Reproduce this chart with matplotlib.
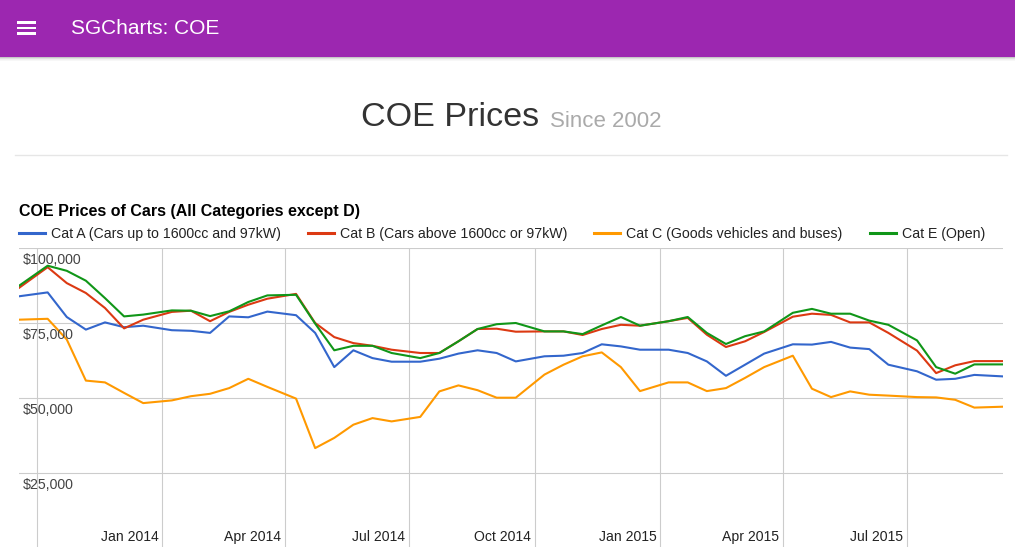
#import library
import numpy as np
import pandas as pd
import matplotlib
matplotlib.use("Agg")
import matplotlib.pyplot as plt
import matplotlib.dates as mdates
from matplotlib.patches import Rectangle
from matplotlib.transforms import offset_copy

#data (COE bidding results)
dates = ["2013-09-18", "2013-10-09", "2013-10-23", "2013-11-06", "2013-11-20", "2013-12-04",
         "2013-12-18", "2014-01-08", "2014-01-22", "2014-02-05", "2014-02-19", "2014-03-05",
         "2014-03-19", "2014-04-09", "2014-04-23", "2014-05-07", "2014-05-21", "2014-06-04",
         "2014-06-18", "2014-07-09", "2014-07-23", "2014-08-06", "2014-08-20", "2014-09-03",
         "2014-09-17", "2014-10-08", "2014-10-22", "2014-11-05", "2014-11-19", "2014-12-03",
         "2014-12-17", "2015-01-07", "2015-01-21", "2015-02-04", "2015-02-18", "2015-03-04",
         "2015-03-18", "2015-04-08", "2015-04-22", "2015-05-06", "2015-05-20", "2015-06-03",
         "2015-06-17", "2015-07-08", "2015-07-22", "2015-08-05", "2015-08-19", "2015-09-09"]

cat_a = [83900, 85200, 77000, 72800, 75200, 73600, 74100, 72600, 72400, 71700, 77200, 76900,
         78800, 77600, 71700, 60300, 65900, 63300, 62100, 62100, 63100, 64800, 65900, 65000,
         62200, 63900, 64100, 65000, 67900, 67200, 66100, 66100, 65000, 62200, 57400, 61100,
         64800, 67900, 67800, 68700, 66800, 66300, 61100, 58900, 56100, 56400, 57700, 57200]

cat_b = [86700, 93600, 88300, 85000, 80000, 73200, 76100, 78700, 79100, 75600, 78700, 81100,
         83100, 84700, 75000, 70300, 68300, 67400, 66100, 65000, 65000, 68900, 73000, 73100,
         72100, 72200, 72200, 71000, 73000, 74400, 74100, 75600, 76700, 71100, 67000, 68900,
         72000, 77100, 78100, 77700, 75200, 75200, 71700, 65800, 58300, 60900, 62300, 62300]

cat_c = [76100, 76400, 69500, 55800, 55200, 51700, 48300, 49200, 50600, 51400, 53300, 56400,
         53700, 49800, 33300, 36700, 41100, 43300, 42200, 43700, 52200, 54200, 52600, 50100,
         50100, 57800, 61100, 63900, 65200, 60300, 52300, 55200, 55200, 52300, 53300, 56700,
         60300, 64100, 53100, 50300, 52200, 51100, 50800, 50300, 50200, 49400, 46800, 47100]

cat_e = [87400, 94100, 92400, 89100, 83300, 77200, 77800, 79200, 79100, 77300, 78900, 82000,
         84200, 84400, 74800, 65900, 67400, 67400, 65000, 63300, 65000, 68900, 73000, 74600,
         75000, 72200, 72200, 71300, 74200, 77000, 74100, 75600, 77000, 71700, 68000, 70600,
         72200, 78400, 79700, 78100, 78100, 75800, 74400, 69200, 60300, 58100, 61200, 61200]

series_names = ["Cat A (Cars up to 1600cc and 97kW)",
                "Cat B (Cars above 1600cc or 97kW)",
                "Cat C (Goods vehicles and buses)",
                "Cat E (Open)"]
series_colors = ["#3366cc", "#dc3912", "#ff9900", "#109618"]

x_ticks = ["2013-10-01", "2014-01-01", "2014-04-01", "2014-07-01", "2014-10-01",
           "2015-01-01", "2015-04-01", "2015-07-01"]
x_labels = ["", "Jan 2014", "Apr 2014", "Jul 2014", "Oct 2014", "Jan 2015", "Apr 2015", "Jul 2015"]
y_ticks = [25000, 50000, 75000, 100000]
y_labels = ["$25,000", "$50,000", "$75,000", "$100,000"]

df = pd.DataFrame({"date": pd.to_datetime(dates), "A": cat_a, "B": cat_b, "C": cat_c, "E": cat_e})

#figure / page
W, H = 1015, 547
fig = plt.figure(figsize=(W / 100, H / 100), dpi=100)
fig.patch.set_facecolor("white")

def fx(px):
    return px / W

def fy(py):
    return 1 - py / H

#top app bar with a soft shadow
for i, a in enumerate([0.22, 0.12, 0.06, 0.03]):
    fig.patches.append(Rectangle((0, fy(58 + i)), 1, 1 / H, transform=fig.transFigure,
                                 color="black", alpha=a, lw=0))
fig.patches.append(Rectangle((0, fy(57)), 1, 57 / H, transform=fig.transFigure,
                             color="#9c27b0", lw=0))
for yy in [22.5, 28, 33.5]:
    fig.patches.append(Rectangle((fx(17), fy(yy + 1)), fx(19), 2 / H, transform=fig.transFigure,
                                 color="white", lw=0))
fig.text(fx(71), fy(28), "SGCharts: COE", color="white", fontsize=15, family="Liberation Sans",
         va="center", ha="left")

#page title
fig.text(fx(361), fy(118), "COE Prices", color="#333333", fontsize=24.6, family="Liberation Sans",
         va="center", ha="left")
fig.text(fx(550), fy(121.5), "Since 2002", color="#aaaaaa", fontsize=16, family="Liberation Sans",
         va="center", ha="left")
fig.add_artist(plt.Line2D([fx(15), fx(1007)], [fy(155), fy(155)], transform=fig.transFigure,
                          color="#e6e6e6", lw=1))

#chart title
fig.text(fx(19), fy(212), "COE Prices of Cars (All Categories except D)", color="black",
         fontsize=11.5, family="Liberation Sans", weight="bold", va="center", ha="left")

#plot area
ax = fig.add_axes([fx(19), fy(548), fx(1003) - fx(19), (548 - 248) / H])
for col, name, c in zip(["A", "B", "C", "E"], series_names, series_colors):
    ax.plot(df["date"], df[col], color=c, lw=1.5, label=name, solid_joinstyle="round")

ax.set_xlim(df["date"].iloc[0], df["date"].iloc[-1])
ax.set_ylim(0, 100000)
ax.set_xticks(pd.to_datetime(x_ticks))
ax.set_yticks(y_ticks)
ax.set_xticklabels([])
ax.set_yticklabels([])
ax.tick_params(length=0)
ax.grid(True, color="#cccccc", lw=0.8)
ax.set_axisbelow(True)
for s in ax.spines.values():
    s.set_visible(False)
ax.patch.set_alpha(0)

#labels drawn inside the plot area like the original
ytr = offset_copy(ax.get_yaxis_transform(), fig=fig, x=4, y=-12, units="dots")
for v, lab in zip(y_ticks, y_labels):
    ax.text(0, v, lab, transform=ytr, fontsize=10.2, family="Liberation Sans", color="#444444",
            ha="left", va="center", clip_on=False)
xtr = offset_copy(ax.get_xaxis_transform(), fig=fig, x=-4, y=11, units="dots")
for d, lab in zip(pd.to_datetime(x_ticks), x_labels):
    if lab:
        ax.text(mdates.date2num(d), 0, lab, transform=xtr, fontsize=10.1, family="Liberation Sans",
                color="#222222", ha="right", va="center", clip_on=False)

#legend
fs = 10.2
px = fs * 100 / 72
leg = fig.legend(loc="center left", bbox_to_anchor=(fx(19), fy(234)), ncol=4, frameon=False,
                 prop={"family": "Liberation Sans", "size": fs}, borderpad=0, borderaxespad=0,
                 handlelength=26 / px, handletextpad=6 / px, columnspacing=27 / px)
for t in leg.get_texts():
    t.set_color("#222222")
for l in leg.get_lines():
    l.set_linewidth(2.2)

plt.savefig("out.png", dpi=100)
